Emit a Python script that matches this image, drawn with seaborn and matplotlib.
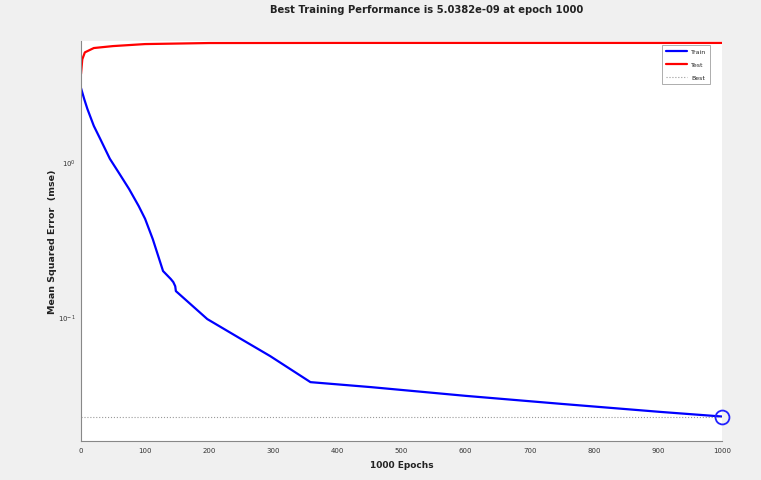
import numpy as np
import pandas as pd
import matplotlib
matplotlib.use("Agg")
import matplotlib.pyplot as plt
import seaborn as sns
from matplotlib.ticker import FixedLocator, NullFormatter

# ---- data ----
train_epochs = [0, 5, 10, 20, 30, 45, 60, 75, 90, 100, 112, 128, 140, 144, 147, 148,
                197, 250, 295, 358, 452, 600, 750, 905, 1000]
train_mse = [3.0, 2.55, 2.2, 1.71, 1.41, 1.05, 0.84, 0.67, 0.52, 0.43, 0.318, 0.198,
             0.176, 0.168, 0.158, 0.147, 0.097, 0.072, 0.056, 0.038, 0.0353, 0.031,
             0.0275, 0.0244, 0.0228]
test_epochs = [0, 2, 6, 20, 50, 100, 200, 400, 600, 800, 1000]
test_mse = [3.7, 4.6, 5.1, 5.44, 5.6, 5.77, 5.86, 5.87, 5.87, 5.87, 5.87]
best_epoch = 1000
best_mse = 0.0228
x_ticks = [0, 100, 200, 300, 400, 500, 600, 700, 800, 900, 1000]
title = "Best Training Performance is 5.0382e-09 at epoch 1000"

train_df = pd.DataFrame({"epoch": train_epochs, "mse": train_mse})
test_df = pd.DataFrame({"epoch": test_epochs, "mse": test_mse})

sns.set_style("white")
plt.rcParams["font.family"] = ["DejaVu Sans"]

fig = plt.figure(figsize=(7.61, 4.81), dpi=100, facecolor="#f0f0f0")
ax = fig.add_axes([81 / 761, 1 - 442 / 481, (722 - 81) / 761, (442 - 42) / 481])
ax.set_facecolor("white")

sns.lineplot(data=train_df, x="epoch", y="mse", ax=ax, color="#0000ff", lw=1.6,
             label="Train", estimator=None, sort=False)
sns.lineplot(data=test_df, x="epoch", y="mse", ax=ax, color="#ff0000", lw=1.6,
             label="Test", estimator=None, sort=False)
ax.axhline(best_mse, color="#9a9a9a", lw=0.8, ls=":", label="Best")
ax.plot([best_epoch], [best_mse], marker="o", ms=10, mfc="none", mec="#2020ff", mew=1.3,
        clip_on=False, zorder=5)

ax.set_yscale("log")
ax.set_xlim(0, 1000)
ax.set_ylim(10 ** -1.8, 10 ** 0.781)

ax.set_xticks(x_ticks)
ax.set_xticklabels([str(t) for t in x_ticks])
ax.yaxis.set_major_locator(FixedLocator([1e-1, 1e0]))
ax.yaxis.set_minor_locator(FixedLocator([10 ** (k * 0.2) for k in range(-9, 4)]))
ax.yaxis.set_minor_formatter(NullFormatter())

ax.tick_params(axis="both", which="major", direction="in", length=4, width=0.6,
               colors="#555555", labelsize=5, labelcolor="#333333")
ax.tick_params(axis="y", which="minor", direction="in", length=2.5, width=0.5,
               colors="#777777")
ax.tick_params(axis="x", pad=4)

for s in ["top", "right"]:
    ax.spines[s].set_visible(False)
for s in ["left", "bottom"]:
    ax.spines[s].set_color("#888888")
    ax.spines[s].set_linewidth(0.8)

ax.set_xlabel("1000 Epochs", fontsize=6.5, fontweight="bold", color="#222222", labelpad=5)
ax.set_ylabel("Mean Squared Error  (mse)", fontsize=6.8, fontweight="bold", color="#222222")
ax.yaxis.set_label_coords((57 - 81) / 641, 0.5)
fig.text(427 / 761, 1 - 10 / 481, title, ha="center", va="center", fontsize=7.2,
         fontweight="bold", color="#222222")

leg = ax.legend(loc="upper right", bbox_to_anchor=(713 / 761, 1 - 43 / 481),
                bbox_transform=fig.transFigure, fontsize=4.5, frameon=True,
                fancybox=False, handlelength=3.4, borderpad=0.6, labelspacing=1.2,
                handletextpad=0.6)
leg.get_frame().set_edgecolor("#888888")
leg.get_frame().set_linewidth(0.6)

fig.savefig("out.png", dpi=100, facecolor=fig.get_facecolor())
